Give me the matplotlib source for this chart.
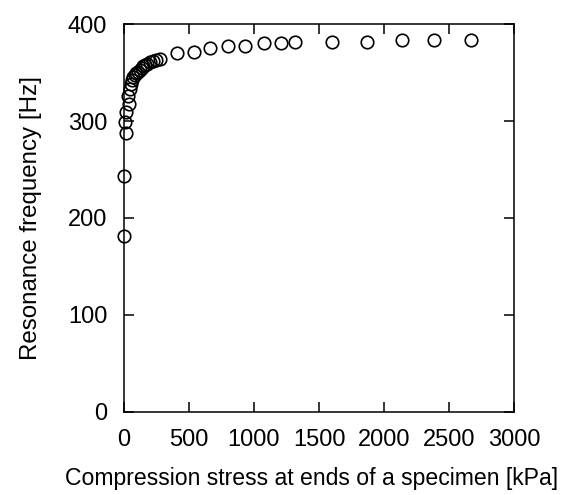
import matplotlib
matplotlib.use('Agg')
import matplotlib.pyplot as plt

plt.rcParams['font.family'] = ['Liberation Sans', 'DejaVu Sans']

# compression stress at specimen ends [kPa] and resonance frequency [Hz]
stress = [3, 3, 14, 10, 12, 35, 30, 45, 55, 62, 72, 85, 95, 108, 120, 135,
          150, 165, 180, 200, 222, 250, 275, 408, 535, 664, 800, 933, 1074,
          1210, 1318, 1600, 1869, 2138, 2382, 2669]
freq = [181, 243, 288, 299, 309, 318, 326, 333, 338, 342, 345, 347, 349, 351,
        353, 355, 357, 358, 359, 361, 362, 363, 364, 370, 371, 375, 377, 377,
        380, 380, 381, 381, 381, 383, 383, 383]

xticks = [0, 500, 1000, 1500, 2000, 2500, 3000]
yticks = [0, 100, 200, 300, 400]

fig = plt.figure(figsize=(5.7, 4.95), dpi=100)
ax = fig.add_axes([0.2175, 0.1677, 0.6843, 0.7838])

ax.plot(stress, freq, 'o', mfc='none', mec='k', ms=9, mew=1.2, clip_on=False)

ax.set_xlim(0, 3000)
ax.set_ylim(0, 400)
ax.set_xticks(xticks)
ax.set_yticks(yticks)
ax.tick_params(direction='in', length=7, width=1.1, top=True, right=True,
               labelsize=17)
ax.tick_params(axis='x', pad=12)
ax.tick_params(axis='y', pad=12)
for s in ax.spines.values():
    s.set_linewidth(1.1)

ax.set_xlabel('Compression stress at ends of a specimen [kPa]', fontsize=16.6)
ax.xaxis.set_label_coords(0.482, -0.142)
ax.set_ylabel('Resonance frequency [Hz]', fontsize=17.4, labelpad=19)

fig.savefig('out.png', dpi=100)
